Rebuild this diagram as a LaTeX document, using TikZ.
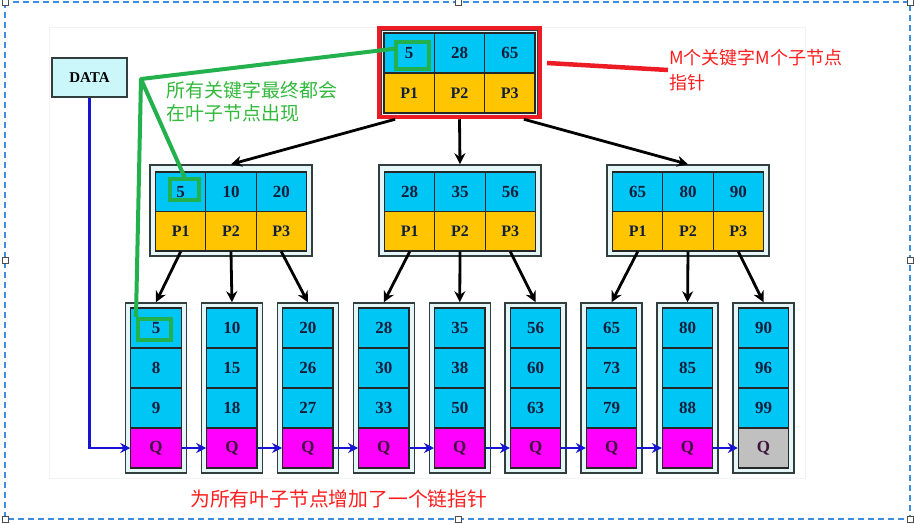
\documentclass[tikz,border=0pt]{standalone}
\usepackage{fontspec}
\setmainfont{Liberation Serif}
\newfontfamily\cjk{Noto Sans CJK SC}
\usetikzlibrary{arrows.meta}
\definecolor{cellcyan}{RGB}{0,198,245}
\definecolor{cellyel}{RGB}{255,198,0}
\definecolor{cellmag}{RGB}{255,0,255}
\definecolor{cellgray}{RGB}{192,192,192}
\definecolor{framefill}{RGB}{228,246,248}
\definecolor{framedraw}{RGB}{50,62,62}
\definecolor{datafill}{RGB}{204,247,250}
\definecolor{numtext}{RGB}{18,30,60}
\definecolor{qtext}{RGB}{60,20,60}
\definecolor{chainblue}{RGB}{20,20,210}
\definecolor{markgreen}{RGB}{34,177,76}
\definecolor{gtext}{RGB}{50,185,60}
\definecolor{markred}{RGB}{237,28,36}
\definecolor{rtext}{RGB}{255,30,30}
\definecolor{selblue}{RGB}{60,140,225}
\begin{document}
\begin{tikzpicture}[x=1pt,y=-1pt,
  frame/.style={draw=framedraw,fill=framefill,line width=1.5pt,inner sep=0pt},
  cell/.style={draw=black!85,line width=1.2pt,minimum width=50.3pt,inner sep=0pt,
    font=\bfseries\fontsize{17}{19}\selectfont,text=numtext},
  kcell/.style={cell,fill=cellcyan},
  pcell/.style={cell,fill=cellyel,font=\bfseries\fontsize{16}{18}\selectfont},
  arr/.style={line width=2.8pt,black,-{Stealth[length=11pt,width=11pt]}},
  bl/.style={line width=2.8pt,chainblue,-{Stealth[length=10pt,width=10pt]}},
  grn/.style={line width=4pt,markgreen,line join=round},
  gbox/.style={draw=markgreen,line width=4pt,inner sep=0pt},
  handle/.style={draw=black!70,fill=white,line width=1pt,minimum size=6pt,inner sep=0pt}
]
\useasboundingbox (0,0) rectangle (914,523);
% faint pasted-image edge
\draw[black!5,line width=0.8pt] (49,27) rectangle (805,478);

% selection border
\draw[selblue,line width=1.6pt,dash pattern=on 6pt off 4pt] (5,2) rectangle (910,519);
\foreach \hx/\hy [count=\h] in {5/2,458/2,910/2,5/260,910/260,5/519,458/519,910/519}
  \node[handle] (h\h) at (\hx,\hy) {};

% root
\node[frame,minimum width=157pt,minimum height=86pt] (root) at (459.5,73) {};
\foreach \j/\k in {1/5,2/28,3/65}{
  \node[kcell,minimum height=40pt] (rk\j) at ({459.5+(\j-2)*50.3},53) {\k};
  \node[pcell,minimum height=40pt] (rp\j) at ({459.5+(\j-2)*50.3},93) {P\j};
}
\node[draw=markred,line width=4.5pt,minimum width=161pt,minimum height=89pt,inner sep=0pt] (rootred) at (459.5,72.5) {};

% middle level
\foreach \i/\cx/\a/\b/\c in {1/231/5/10/20,2/460/28/35/56,3/688/65/80/90}{
  \node[frame,minimum width=162pt,minimum height=91pt] (m\i) at (\cx,210.5) {};
  \foreach \j/\k in {1/\a,2/\b,3/\c}{
    \node[kcell,minimum height=39.5pt] (m\i k\j) at ({\cx+(\j-2)*50.3},191.75) {\k};
    \node[pcell,minimum height=39.5pt] (m\i p\j) at ({\cx+(\j-2)*50.3},231.25) {P\j};
  }
}

% leaves
\foreach \i/\a/\b/\c/\q in {1/5/8/9/cellmag,2/10/15/18/cellmag,3/20/26/27/cellmag,
  4/28/30/33/cellmag,5/35/38/50/cellmag,6/56/60/63/cellmag,7/65/73/79/cellmag,
  8/80/85/88/cellmag,9/90/96/99/cellgray}{
  \pgfmathsetmacro\cx{156+75.94*(\i-1)}
  \node[frame,minimum width=61pt,minimum height=170pt] (l\i) at (\cx,388) {};
  \node[kcell,minimum height=40pt] (l\i-1) at (\cx,328) {\a};
  \node[kcell,minimum height=40pt] (l\i-2) at (\cx,368) {\b};
  \node[kcell,minimum height=40pt] (l\i-3) at (\cx,408) {\c};
  \node[cell,fill=\q,minimum height=40pt,text=qtext] (l\i-4) at (\cx,448) {Q};
}

% tree arrows
\draw[arr] (rootred.216) -- (m1.north);
\draw[arr] (rootred.south) -- (m2.north);
\draw[arr] (rootred.324) -- (m3.north);
\foreach \i/\a/\b/\c in {1/1/2/3,2/4/5/6,3/7/8/9}{
  \draw[arr] (m\i p1.south) -- (l\a.north);
  \draw[arr] (m\i p2.south) -- (l\b.north);
  \draw[arr] (m\i p3.south) -- (l\c.north);
}

% chain pointers
\node[draw=framedraw,fill=datafill,line width=1.5pt,minimum width=75pt,minimum height=39pt,inner sep=0pt,
  font=\bfseries\fontsize{15}{17}\selectfont] (data) at (89.5,77.5) {DATA};
\draw[bl] (data.south) |- (l1-4.west);
\foreach \i [evaluate=\i as \n using int(\i+1)] in {1,...,8}
  \draw[bl] (l\i-4.east) -- (l\n-4.west);

% green annotation
\node[gbox,minimum width=33pt,minimum height=27pt] (g0) at (412.5,55.5) {};
\node[gbox,minimum width=29pt,minimum height=21pt] (g1) at (184.5,189.5) {};
\node[gbox,minimum width=33pt,minimum height=21pt] (g2) at (154.5,329.5) {};
\coordinate (gc) at (141,79);
\draw[grn] (g0.160) -- (gc) -- (g2.north west);
\draw[grn] (gc) -- (g1.north);
\node[anchor=north west,inner sep=0pt,align=left,text=gtext,
  font=\cjk\fontsize{19}{23.5}\selectfont] (gtxt) at (166,81) {所有关键字最终都会\\在叶子节点出现};

% red annotation
\node[anchor=west,inner sep=0pt,align=left,text=rtext,
  font=\cjk\fontsize{18}{25}\selectfont] (rtxt) at (669,70) {M个关键字M个子节点\\指针};
\coordinate (ra) at (547,63);
\draw[markred,line width=4.5pt] (ra) -- ([xshift=-1pt]rtxt.west);

\node[anchor=north west,inner sep=0pt,text=rtext,
  font=\cjk\fontsize{19.8}{24}\selectfont] (btxt) at (190,490) {为所有叶子节点增加了一个链指针};
\end{tikzpicture}
\end{document}
